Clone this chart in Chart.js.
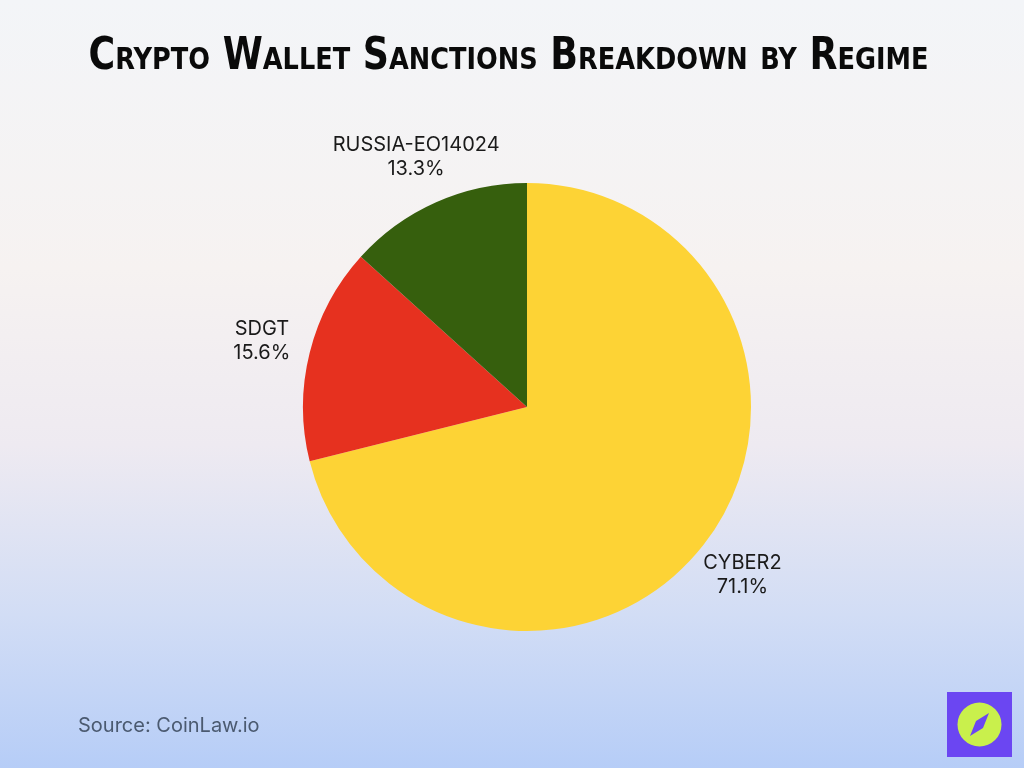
<!DOCTYPE html>
<html>
<head>
<meta charset="utf-8">
<script src="https://cdn.jsdelivr.net/npm/chart.js@4.4.0/dist/chart.umd.min.js"></script>
<style>
  html, body { margin: 0; padding: 0; }
  body {
    width: 1024px; height: 768px; overflow: hidden; position: relative;
    background: linear-gradient(180deg, #f3f5f8 0%, #f6f2f1 35%, #eeeaf1 58%, #d2ddf5 80%, #b6cdf7 100%);
  }
  #title {
    position: absolute; left: 0; top: 28px; width: 992px; text-align: center;
    white-space: nowrap;
  }
  #titleText {
    display: inline-block; transform-origin: center; white-space: nowrap;
    font-family: "DejaVu Sans", sans-serif;
    font-weight: bold; font-variant: small-caps; font-size: 44px; color: #0a0a0a;
    line-height: 52px;
  }
  #chartBox { position: absolute; left: 0; top: 0; width: 1024px; height: 768px; }
  #source {
    position: absolute; left: 78px; top: 713px;
    font-family: "Inter", "Open Sans", sans-serif; font-size: 20px; color: #4b5a70;
  }
  #logo { position: absolute; left: 947px; top: 692px; }
</style>
</head>
<body>
<div id="chartBox"><canvas id="pieChart" width="1024" height="768"></canvas></div>
<div id="title"><span id="titleText">Crypto Wallet Sanctions Breakdown by Regime</span></div>
<div id="source">Source: CoinLaw.io</div>
<svg id="logo" width="65" height="65" viewBox="0 0 65 65">
  <rect x="0" y="0" width="65" height="65" fill="#6b46f2"/>
  <circle cx="32.5" cy="32.5" r="22" fill="#c9f04c"/>
  <polygon points="42,21 36,36 23,44 29,29" fill="#6b46f2"/>
</svg>
<script>
const regimes = ["CYBER2", "SDGT", "RUSSIA-EO14024"];
const shares = [71.1, 15.6, 13.3];
const sliceColors = ["#fdd335", "#e6311f", "#365f0d"];

// squeeze the title to the condensed width of the original
const titleText = document.getElementById("titleText");
const titleWidth = titleText.offsetWidth;
titleText.style.transform = "scaleX(" + (840 / titleWidth) + ")";

const outerLabels = {
    id: "outerLabels",
    afterDatasetsDraw(chart) {
        const ctx = chart.ctx;
        const meta = chart.getDatasetMeta(0);
        ctx.save();
        ctx.font = "20px Inter, 'Open Sans', sans-serif";
        ctx.fillStyle = "#1a1a1a";
        ctx.textAlign = "center";
        ctx.textBaseline = "middle";
        meta.data.forEach((arc, i) => {
            const mid = (arc.startAngle + arc.endAngle) / 2;
            const r = arc.outerRadius * 1.22;
            const x = arc.x + Math.cos(mid) * r;
            const y = arc.y + Math.sin(mid) * r;
            ctx.fillText(regimes[i], x, y - 12);
            ctx.fillText(shares[i].toFixed(1) + "%", x, y + 12);
        });
        ctx.restore();
    }
};

new Chart(document.getElementById("pieChart"), {
    type: "pie",
    data: {
        labels: regimes,
        datasets: [{
            data: shares,
            backgroundColor: sliceColors,
            borderWidth: 0
        }]
    },
    options: {
        responsive: false,
        animation: false,
        layout: { padding: { top: 183, bottom: 137, left: 303, right: 273 } },
        plugins: {
            legend: { display: false },
            tooltip: { enabled: false }
        }
    },
    plugins: [outerLabels]
});
</script>
</body>
</html>
